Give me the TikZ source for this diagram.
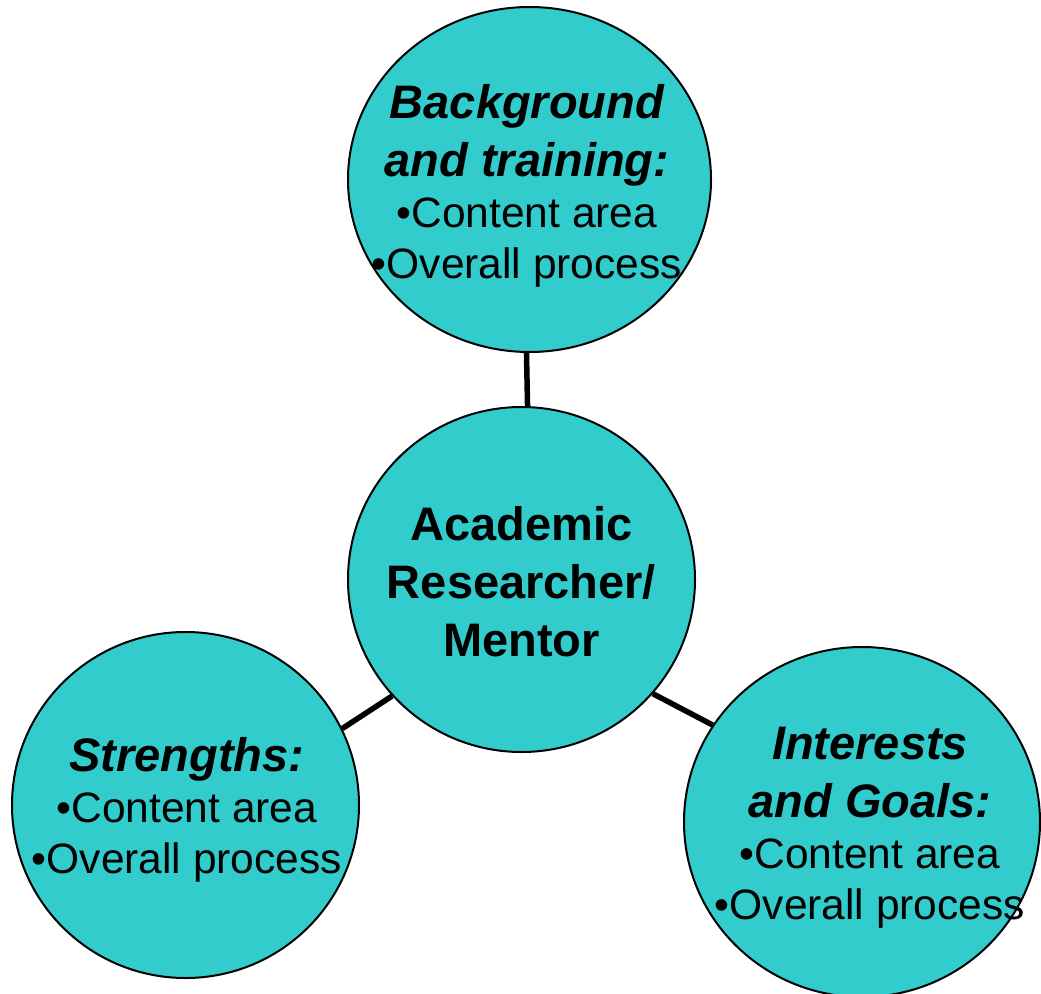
\documentclass[tikz,border=0pt]{standalone}
\usepackage{fontspec}
\setmainfont{Liberation Sans}
\usetikzlibrary{shapes.geometric}
\definecolor{bubblefill}{RGB}{51,204,204}
\newcommand{\ttl}{\fontsize{47}{58}\selectfont\bfseries\itshape}
\newcommand{\bdy}{\fontsize{42.5}{51}\selectfont}
\newcommand{\ctr}{\fontsize{47}{58}\selectfont\bfseries}
\begin{document}
\begin{tikzpicture}[x=1pt,y=-1pt,
  bubble/.style={ellipse, draw=black, line width=2pt, fill=bubblefill, inner sep=0pt},
  txt/.style={align=center, inner sep=0pt, font=\fontsize{42.5}{51}\selectfont},
  link/.style={draw=black, line width=5.5pt}]
\useasboundingbox (0,0) rectangle (1041,993);
% circles
\node[bubble, minimum width=363pt, minimum height=345pt] (t) at (529.5,179.5) {};
\node[bubble, minimum width=347pt, minimum height=345pt] (c) at (521.5,579.5) {};
\node[bubble, minimum width=347pt, minimum height=346pt] (bl) at (185.5,805) {};
\node[bubble, minimum width=356pt, minimum height=350pt] (br) at (862,822) {};
% connectors
\draw[link] (t.-91.5) -- (c.88.8);
\draw[link] (c.222.9) -- (bl.26.2);
\draw[link] (c.-41.3) -- (br.147.1);
% texts
\node[txt] (tt) at (527,186) {{\ttl Background}\\[7pt]{\ttl and training:}\\{\bdy •Content area}\\{\bdy •Overall process}};
\node[txt] (ct) at (521.5,582) {{\ctr Academic}\\[7pt]{\ctr Researcher/}\\[7pt]{\ctr Mentor}};
\node[txt] (blt) at (187,810) {{\ttl Strengths:}\\{\bdy •Content area}\\{\bdy •Overall process}};
\node[txt] (brt) at (870,828) {{\ttl Interests}\\[7pt]{\ttl and Goals:}\\{\bdy •Content area}\\{\bdy •Overall process}};
\end{tikzpicture}
\end{document}
